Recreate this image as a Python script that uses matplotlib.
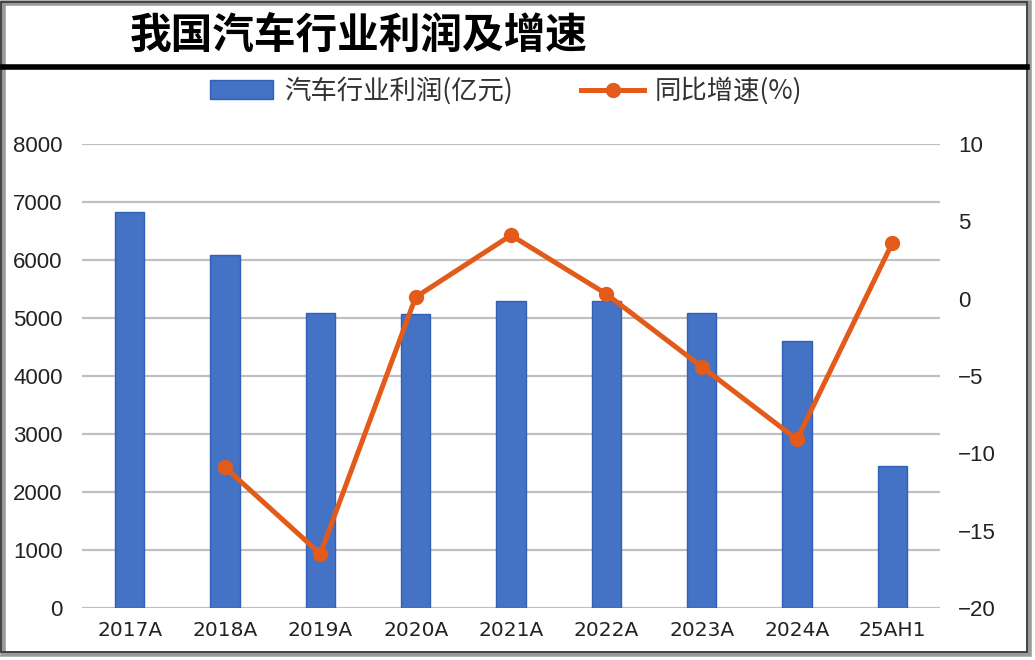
import matplotlib
matplotlib.use("Agg")
import matplotlib.pyplot as plt
from matplotlib.patches import Rectangle
from matplotlib.lines import Line2D
import numpy as np

plt.rcParams['font.family'] = ['Noto Sans CJK SC', 'DejaVu Sans']

categories = ["2017A", "2018A", "2019A", "2020A", "2021A", "2022A", "2023A", "2024A", "25AH1"]
profit = [6835, 6085, 5085, 5070, 5290, 5300, 5080, 4605, 2450]
growth = [None, -10.9, -16.5, 0.1, 4.1, 0.3, -4.4, -9.1, 3.6]
left_ticks = [0, 1000, 2000, 3000, 4000, 5000, 6000, 7000, 8000]
right_ticks = [-20, -15, -10, -5, 0, 5, 10]

title = "我国汽车行业利润及增速"
bar_label = "汽车行业利润(亿元)"
line_label = "同比增速(%)"

bar_color = "#4472C4"
bar_edge = "#2E62B8"
line_color = "#E35B1A"
grid_color = "#C0C0C0"

fig = plt.figure(figsize=(10.35, 6.6), dpi=100)
ax = fig.add_axes([82/1035, 1-608/660, (940-82)/1035, (608-144)/660])
ax2 = ax.twinx()

x = np.arange(len(categories))
ax.bar(x, profit, width=0.31, color=bar_color, edgecolor=bar_edge, linewidth=1.0, zorder=2)
ax.set_xlim(-0.5, len(categories) - 0.5)
ax.set_ylim(0, 8000)
ax.set_yticks(left_ticks)
ax.set_xticks(x)
ax.set_xticklabels(categories, fontsize=14.5, family=['Liberation Sans Narrow', 'DejaVu Sans Condensed', 'DejaVu Sans'], color="#222222")
ax.grid(axis='y', color=grid_color, linewidth=1.6, zorder=0)
ax.set_axisbelow(True)

gx = [i for i, v in enumerate(growth) if v is not None]
gy = [v for v in growth if v is not None]
ax2.plot(gx, gy, color=line_color, linewidth=3.6, marker='o', markersize=10,
         markerfacecolor=line_color, markeredgecolor=line_color, zorder=3)
ax2.set_ylim(-20, 10)
ax2.set_yticks(right_ticks)

for a in (ax, ax2):
    for s in a.spines.values():
        s.set_visible(False)
    a.tick_params(length=0)
for lbl in ax.get_yticklabels():
    lbl.set_fontsize(16); lbl.set_family(['Liberation Sans', 'DejaVu Sans']); lbl.set_color("#222222")
for lbl in ax2.get_yticklabels():
    lbl.set_fontsize(16); lbl.set_family(['Liberation Sans', 'DejaVu Sans']); lbl.set_color("#222222")
ax.tick_params(axis='y', pad=14)
ax2.tick_params(axis='y', pad=13)
ax.tick_params(axis='x', pad=9)

# title
fig.text(130/1035, 1-36/660, title, fontsize=30, fontweight='bold', va='center', ha='left', color='black')
# thick rule under title
fig.add_artist(Line2D([3/1035, 1027/1035], [1-67/660, 1-67/660], color='black', linewidth=4.0,
                      transform=fig.transFigure))

# legend
handles = [Rectangle((0, 0), 1, 1, facecolor=bar_color, edgecolor=bar_edge),
           Line2D([0], [0], color=line_color, linewidth=3.6, marker='o', markersize=10)]
leg = fig.legend(handles, [bar_label, line_label], loc='center', bbox_to_anchor=(506/1035, 1-91/660),
                 ncol=2, frameon=False, fontsize=19, handlelength=2.4, columnspacing=2.6,
                 handletextpad=0.4)
for t in leg.get_texts():
    t.set_color("#333333")

# image border with shadow
fig.add_artist(Rectangle((3/1035, 6/660), 1026/1035, 651/660, transform=fig.transFigure,
                         facecolor='none', edgecolor='#9a9a9a', linewidth=4, zorder=-1))
fig.add_artist(Rectangle((1/1035, 8/660), 1026/1035, 650/660, transform=fig.transFigure,
                         facecolor='none', edgecolor='#333333', linewidth=1.2))

fig.savefig("out.png", dpi=100)
